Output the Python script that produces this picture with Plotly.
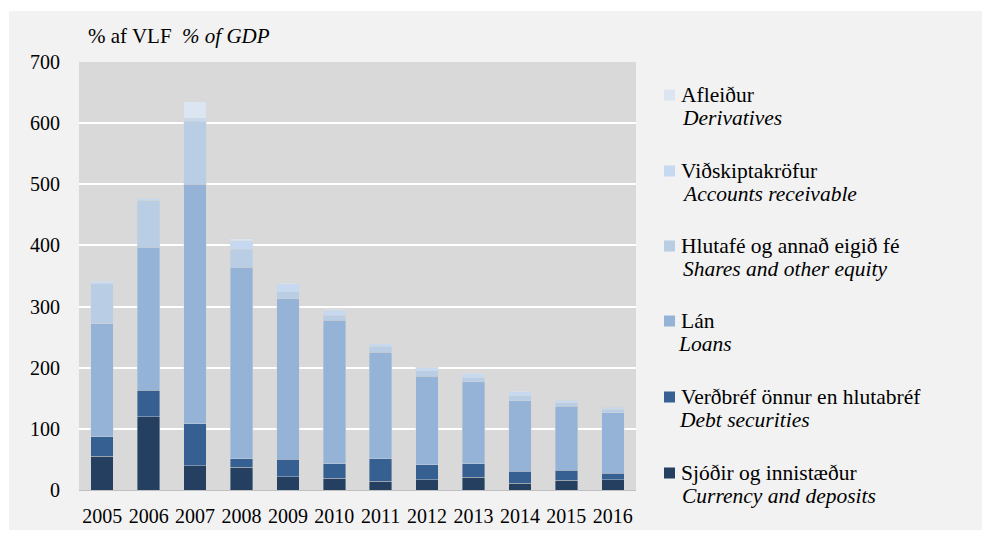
import plotly.graph_objects as go

years = ["2005", "2006", "2007", "2008", "2009", "2010",
         "2011", "2012", "2013", "2014", "2015", "2016"]

# % of GDP, stacked from the bottom up
currency = [55, 120, 40, 37, 22, 19, 14, 17, 21, 11, 16, 17]
debt = [32, 43, 68, 14, 28, 24, 37, 24, 22, 20, 16, 10]
loans = [185, 234, 392, 313, 263, 235, 174, 145, 134, 115, 105, 99]
shares = [65, 77, 103, 30, 11, 8, 10, 9, 7, 8, 6, 6]
receivable = [4, 3, 5, 14, 13, 8, 4, 5, 6, 7, 4, 3]
derivatives = [1, 1, 27, 3, 2, 1.5, 1, 1, 1, 1, 1, 1]

names_is = ["Sjóðir og innistæður", "Verðbréf önnur en hlutabréf", "Lán",
            "Hlutafé og annað eigið fé", "Viðskiptakröfur", "Afleiður"]
names_en = ["Currency and deposits", "Debt securities", "Loans",
            "Shares and other equity", "Accounts receivable", "Derivatives"]
colors = ["#243f60", "#366092", "#95b3d7", "#b9cde5", "#c6d9f1", "#dce6f2"]
series = [currency, debt, loans, shares, receivable, derivatives]

FONT = "Liberation Serif, Times New Roman, serif"
W, H = 982, 535
L, R, T, B = 79, 636, 62, 490  # plot area in pixels


def px(x):
    return (x - L) / (R - L)


def py(y):
    return (B - y) / (B - T)


def txt(s, x, y, size=21.5):
    return dict(text=s, xref="paper", yref="paper", x=px(x), y=py(y),
                xanchor="left", yanchor="middle", showarrow=False,
                font=dict(family=FONT, size=size, color="black"))


fig = go.Figure()
for name, vals, col in zip(names_en, series, colors):
    fig.add_bar(name=name, x=years, y=vals, marker_color=col,
                marker_line=dict(color="rgba(215,215,215,0.7)", width=0.6),
                showlegend=False, hoverinfo="y+name")

shapes = [
    # white frame around the light grey panel
    dict(type="rect", xref="paper", yref="paper", x0=px(0), x1=px(W), y0=py(11), y1=py(0),
         fillcolor="white", line_width=0, layer="below"),
    dict(type="rect", xref="paper", yref="paper", x0=px(0), x1=px(9), y0=py(H), y1=py(0),
         fillcolor="white", line_width=0, layer="below"),
    dict(type="rect", xref="paper", yref="paper", x0=px(0), x1=px(W), y0=py(H), y1=py(530),
         fillcolor="white", line_width=0, layer="below"),
]

annotations = [txt("% af VLF  <i>% of GDP</i>", 86, 36, 21)]

# hand-laid legend, top entry = top of the stack
leg_y = [95, 171, 246, 321, 397, 473]
leg_x2 = [680, 680, 681, 676, 677, 680]
for i, k in enumerate(range(5, -1, -1)):
    y0 = leg_y[i]
    shapes.append(dict(type="rect", xref="paper", yref="paper",
                       x0=px(664), x1=px(675), y0=py(y0 + 5.5), y1=py(y0 - 5.5),
                       fillcolor=colors[k], line_width=0))
    annotations.append(txt(names_is[k], 679, y0))
    annotations.append(txt("<i>" + names_en[k] + "</i>", leg_x2[i], y0 + 23))

fig.update_layout(
    barmode="stack", bargap=0.515,
    width=W, height=H,
    margin=dict(l=L, r=W - R, t=T, b=H - B),
    paper_bgcolor="#f2f2f2", plot_bgcolor="#d9d9d9",
    font=dict(family=FONT, size=20, color="black"),
    shapes=shapes, annotations=annotations,
)
fig.update_yaxes(range=[0, 700], dtick=100, showgrid=True, gridcolor="white", gridwidth=1.6,
                 zeroline=False, ticks="", ticklabelstandoff=18, automargin=False)
fig.update_xaxes(showline=True, linecolor="#bfbfbf", linewidth=1.2, ticks="",
                 ticklabelstandoff=8, tickangle=0, automargin=False)

fig.write_html("out.html", config={"displayModeBar": False},
               post_script="document.body.style.margin='0';"
                           "document.body.style.overflow='hidden';")
